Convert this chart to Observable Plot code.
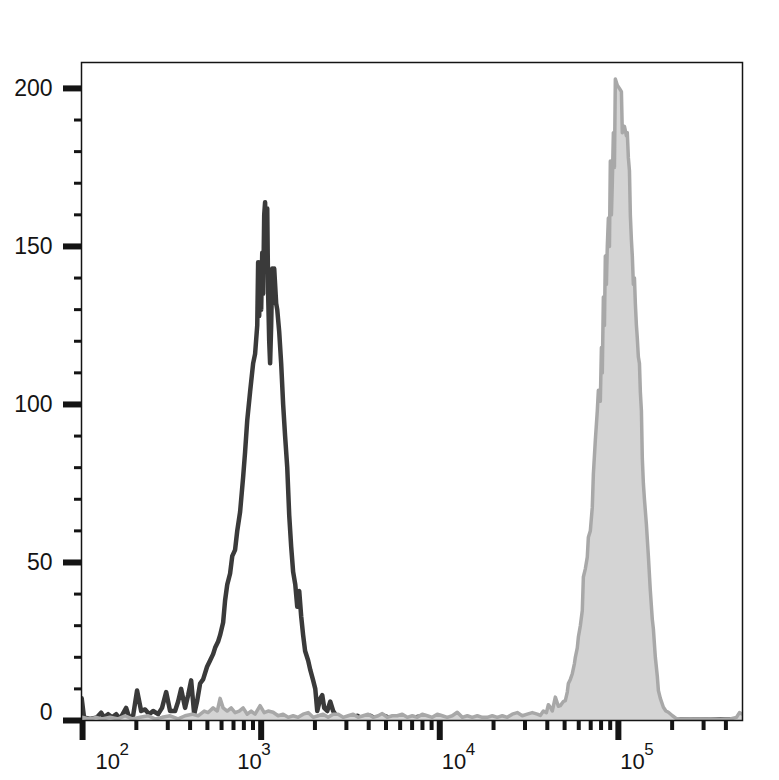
<!DOCTYPE html>
<html><head><meta charset="utf-8">
<script src="https://cdn.jsdelivr.net/npm/d3@7"></script>
<script src="https://cdn.jsdelivr.net/npm/@observablehq/plot@0.6"></script>
<style>body{margin:0;background:#fff} svg{display:block}</style>
</head><body><div id="chart"></div>
<script>
// Control (dark outline) histogram: log10 fluorescence, event count
const darkLogX = [1.995,2.008,2.042,2.081,2.104,2.120,2.143,2.165,2.188,2.210,2.244,2.261,2.283,2.305,2.328,2.350,2.373,2.395,2.423,2.445,2.468,2.490,2.518,2.535,2.552,2.574,2.591,2.608,2.625,2.641,2.658,2.675,2.697,2.714,2.731,2.742,2.759,2.770,2.787,2.798,2.810,2.826,2.838,2.854,2.866,2.882,2.899,2.910,2.922,2.938,2.955,2.966,2.978,2.983,2.989,2.994,3.000,3.006,3.011,3.017,3.022,3.028,3.034,3.039,3.045,3.050,3.056,3.062,3.067,3.073,3.078,3.084,3.090,3.101,3.112,3.123,3.134,3.146,3.157,3.168,3.179,3.191,3.202,3.213,3.224,3.235,3.246,3.263,3.275,3.291,3.303,3.314,3.331,3.342,3.353,3.370,3.387,3.403,3.426,3.443,3.499,3.538,3.566,3.611,3.644,3.689,3.734,3.779,3.835,3.880,3.919,4.003,4.115,4.227,4.339,4.451,4.563,4.675,4.787,4.899,5.011,5.123,5.235,5.347,5.459,5.571,5.695];
const darkCount = [7,1,0.5,1,2.5,1,2,1,2,0.5,4,1,1.5,9.5,3,3.5,2,3,2,4,9,3,3,6,10,4,8,12.7,2,6,11.7,13,17,19,21,23,25,27,31,38,43,46.5,52,54,60,66,77,85,95,104,113,116,125,145,128,145,130,148,135,160,164,150,162,135,120,113,125,143,132,143,138,132,130,123,113,100,90,80,65,55,47,43,36,41,33,27,22,19,16,12.7,10,3,7,8,4,3,6,3,1,0.5,0.5,1.5,0.5,1.5,0.5,1.5,0.5,1,0.5,1.2,0.3,0.3,0.2,0.3,0.2,0.3,0.2,0.3,0.2,0.3,0.2,0.3,0.2,0.3,0.2,0.3,0.2];

// Stained sample (grey filled) histogram
const grayLogX = [1.995,2.042,2.076,2.109,2.154,2.199,2.238,2.277,2.322,2.367,2.406,2.445,2.490,2.535,2.574,2.613,2.647,2.681,2.703,2.731,2.754,2.770,2.787,2.810,2.832,2.854,2.877,2.899,2.922,2.944,2.966,2.994,3.017,3.039,3.067,3.095,3.123,3.151,3.179,3.207,3.235,3.263,3.291,3.319,3.347,3.375,3.403,3.431,3.459,3.487,3.515,3.543,3.571,3.599,3.627,3.655,3.678,3.706,3.734,3.762,3.790,3.818,3.846,3.874,3.902,3.930,3.958,3.986,4.014,4.042,4.070,4.098,4.126,4.154,4.182,4.210,4.238,4.266,4.294,4.322,4.350,4.378,4.406,4.434,4.462,4.490,4.518,4.546,4.563,4.580,4.597,4.608,4.619,4.630,4.647,4.664,4.675,4.692,4.703,4.714,4.720,4.731,4.742,4.754,4.759,4.770,4.776,4.787,4.798,4.804,4.815,4.826,4.832,4.843,4.854,4.860,4.871,4.882,4.888,4.899,4.905,4.910,4.916,4.922,4.927,4.933,4.938,4.944,4.950,4.955,4.961,4.966,4.972,4.978,4.983,4.994,5.006,5.017,5.022,5.034,5.045,5.050,5.056,5.062,5.067,5.073,5.078,5.084,5.090,5.095,5.101,5.106,5.112,5.118,5.123,5.129,5.134,5.140,5.146,5.157,5.168,5.179,5.190,5.196,5.207,5.218,5.224,5.235,5.252,5.266,5.280,5.303,5.325,5.347,5.403,5.459,5.515,5.571,5.627,5.661,5.678,5.695];
const grayCount = [1,0.5,1,0.5,1,0.5,1.5,0.5,1,1.5,0.5,1,1.5,0.5,1.5,2,1.5,3,2.5,4,3,7,4,3,4,2.5,3,4,2,3,2,4.7,2.5,3,2.6,1.5,2,1,1.5,1,2,2.5,1,1.5,2,1,2,2,1,1.5,2,1,1.5,2,1,1.5,2.2,1,1.5,1.5,2,1,1.5,1,2,1.5,1,2,1.5,1,1.5,2.6,1,1.5,1,1.5,1,1,1.5,1,1.5,1,2,2.5,1.5,2,2.5,2,1.6,3,2.5,5,4.2,3,7.4,4.5,4.7,6,6.3,9,11.7,13,14.8,18,20,23,26.4,30,34.8,45.4,48,51.7,58,60,67.5,78,88.7,98,104.5,101,118,110,134,125,147,138,150,159,150,177,160,170,186,175,203,201,200,199,186,188,185,186,178,174,160,152,147,138,140,132,125,121,115,113,104,98,83,75,70,62,52,41,32,29,20,14,9.5,7,4.2,3,2.6,1.5,0.6,0.5,0.5,0.3,0.5,0.3,0.5,1,2.5,2];

const yMajorTicks = [0, 50, 100, 150, 200];
const yMinorTicks = [10,20,30,40,60,70,80,90,110,120,130,140,160,170,180,190];
const xDecades = [2, 3, 4, 5];
const xMinorTicks = [200,300,400,500,600,700,800,900,2000,3000,4000,5000,6000,7000,8000,9000,20000,30000,40000,50000,60000,70000,80000,90000,200000,300000,400000];

const dark = darkLogX.map((lx, i) => ({x: 10 ** lx, y: darkCount[i]}));
const gray = grayLogX.map((lx, i) => ({x: 10 ** lx, y: grayCount[i]}));
const ink = "#141414";

// horizontal nudges of each decade label (style), matching the original layout
const labelNudge = {2: 13, 3: -24, 4: 2, 5: 2};
const decadeLabels = xDecades.flatMap(d => [
  Plot.text([d], {x: e => 10 ** e, text: () => "10", frameAnchor: "bottom", dy: 48, dx: labelNudge[d], textAnchor: "start", fontSize: 22, fill: ink}),
  Plot.text([d], {x: e => 10 ** e, text: e => String(e), frameAnchor: "bottom", dy: 34, dx: labelNudge[d] + 24, textAnchor: "start", fontSize: 17, fill: ink})
]);

const chart = Plot.plot({
  width: 779, height: 780,
  marginLeft: 81, marginRight: 37, marginTop: 62, marginBottom: 60,
  style: {fontFamily: "'Liberation Sans', Arial, sans-serif", background: "#fff", color: ink},
  x: {type: "log", domain: [10 ** 1.994, 10 ** 5.695], label: null},
  y: {domain: [0, 208.2], label: null},
  marks: [
    Plot.lineY(dark, {x: "x", y: "y", stroke: "#3a3a3a", strokeWidth: 4.5, strokeLinejoin: "round", clip: true}),
    Plot.areaY(gray, {x: "x", y: "y", fill: "#d4d4d4", clip: true}),
    Plot.lineY(gray, {x: "x", y: "y", stroke: "#a8a8a8", strokeWidth: 3.5, strokeLinejoin: "round", clip: true}),
    Plot.frame({stroke: ink, strokeWidth: 1.5}),
    Plot.axisY({ticks: yMajorTicks, tickSize: 18, strokeWidth: 6, stroke: ink, tickPadding: 11, fontSize: 23, tickFormat: d => d === 0 ? "" : String(d), label: null}),
    Plot.axisY({ticks: [0], tickSize: 0, tickPadding: 29, fontSize: 23, dy: -8, tickFormat: d => String(d), label: null}),
    Plot.axisY({ticks: yMinorTicks, tickSize: 7, strokeWidth: 3, stroke: ink, tickFormat: () => "", label: null}),
    Plot.axisX({ticks: xDecades.map(d => 10 ** d), tickSize: 20, strokeWidth: 6, stroke: ink, tickFormat: () => "", label: null}),
    Plot.axisX({ticks: xMinorTicks, tickSize: 10, strokeWidth: 4, stroke: ink, tickFormat: () => "", label: null}),
    ...decadeLabels
  ]
});
document.getElementById("chart").appendChild(chart);
</script>
</body></html>
